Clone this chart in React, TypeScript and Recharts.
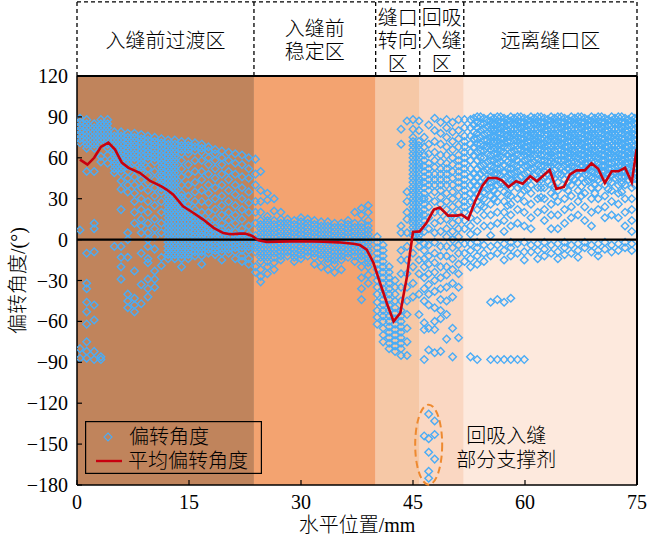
import React from 'react';
import {
  ComposedChart,
  Scatter,
  Line,
  XAxis,
  YAxis,
  ReferenceArea,
  ReferenceLine,
  ReferenceDot,
  Legend,
} from 'recharts';

const FONT = "'Liberation Serif', 'Noto Sans CJK SC', serif";
const CJK = "'Liberation Serif', 'Noto Sans CJK SC', serif";
const CJK_WEIGHT = 300;

const xTicks = [0, 15, 30, 45, 60, 75];
const yTicks = [-180, -150, -120, -90, -60, -30, 0, 30, 60, 90, 120];
const zoneEdges = [0, 23.7, 40, 45.9, 51.8, 75];
const zoneColors = ['#C0845C', '#F3A370', '#F6C8A6', '#FAD7C2', '#FDE9DD'];
const zoneTitles = [
  ['入缝前过渡区'],
  ['入缝前', '稳定区'],
  ['缝口', '转向', '区'],
  ['回吸', '入缝', '区'],
  ['远离缝口区'],
];
const headerTop = 174.3;

// mean deflection line
const meanX = [0.4, 1.4, 2.3, 3.2, 4.2, 5.1, 6.0, 6.9, 8.4, 9.8, 11.3, 12.0, 12.9, 14.2, 15.6, 16.9, 18.3, 19.6, 20.5, 21.8, 22.5, 23.4, 24.3, 25.4, 27, 30, 33, 35, 37, 37.9, 38.8, 39.7, 40.6, 41.5, 42.4, 43.3, 43.7, 44.2, 44.6, 45, 45.9, 46.8, 47.8, 48.6, 49.7, 50.9, 51.5, 52.4, 53.3, 54.3, 55.1, 56.2, 56.9, 57.8, 58.8, 59.7, 60.7, 61.6, 63.3, 64.2, 65.2, 66, 66.9, 68, 68.9, 69.8, 70.7, 71.6, 72.5, 73.4, 74.3, 74.95];
const meanY = [58.7, 55, 60, 68, 71.2, 66, 56.5, 52.6, 49, 43, 39, 36.7, 33, 24.4, 19.5, 14.7, 8.6, 4.8, 3.9, 4.4, 4.4, 2.9, -0.5, -1.8, -1.5, -1.2, -1.6, -2, -3, -4, -7.3, -17, -32, -46.7, -60, -53.8, -41.6, -27, -9.8, 5.6, 6, 12.2, 22, 23.5, 17.6, 17.6, 18.3, 15, 28, 39.5, 45.2, 45.2, 43.5, 38.6, 42.8, 41, 46.5, 42.8, 51, 37.2, 38.6, 47.7, 50.8, 50.8, 56, 52, 41.6, 50.1, 50.1, 52.6, 42, 66.5];

// deflection angle scatter, by column: [x, y values]
const zone1Columns: [number, number[]][] = [
  [0.4, [89, 86, 83, 80, 77, 74, 71, 7, -80, -87]],
  [1.3, [88, 85, 82, 79, 76, 73, 70, 67, 50, -10, -32, -36, -46, -53, -62, -75, -82, -87]],
  [2.3, [85, 82, 79, 76, 73, 70, 67, 50, 12, 8, -9, -48, -59, -82, -88]],
  [3.2, [88, 85, 82, 79, 76, 73, 70, 61, 57, -86, -88]],
  [4.1, [88, 85, 82, 79, 76, 73, 70, 67, 62, 56]],
  [5.0, [79, 76, 73, 70, 67, 64, 61, 58, 55, 52, 49, -5]],
  [5.9, [79, 76, 73, 70, 67, 64, 61, 58, 55, 52, 49, 43, 37, 22, -5, -13, -20, -29]],
  [6.8, [78, 75, 72, 69, 66, 63, 60, 57, 54, 50, 45, 40, 35, 5, 0, -13, -40, -45, -50]],
  [7.7, [78, 75, 72, 69, 66, 63, 60, 57, 52, 46, 40, 34, 28, 20, 12, -23, -43, -48, -53]],
  [8.6, [77, 74, 71, 68, 65, 62, 59, 56, 53, 50, 44, 38, 30, 22, 15, 10, 5, -10, -33, -47]],
  [9.5, [76, 73, 70, 67, 64, 61, 58, 52, 47, 42, 36, 28, 20, 12, 5, 0, -5, -14, -17, -29, -36, -42]],
  [10.4, [75, 72, 69, 66, 63, 60, 57, 50, 44, 38, 32, 25, 15, 8, 2, -7, -23, -29, -35]],
  [11.3, [74, 71, 68, 65, 62, 59, 56, 53, 50, 47, 44, 41, 38, 35, 28, 20, 12, 5, -13, -19]],
  [12.2, [73, 70, 67, 64, 61, 58, 55, 52, 49, 46, 43, 40, 37, 34, 31, 28, 25, 22, 19, 16, 13, 10, 7, 4, 1, -2, -5, -8, -11, -14]],
  [13.1, [73, 70, 67, 64, 61, 58, 55, 52, 49, 46, 43, 40, 37, 34, 31, 28, 25, 22, 19, 16, 13, 10, 7, 4, 1, -2, -5, -8, -11, -14]],
  [14.0, [72, 69, 66, 63, 58, 52, 46, 40, 34, 31, 28, 25, 22, 19, 16, 13, 10, 7, 4, 1, -2, -5, -8, -11, -14, -20]],
  [14.9, [72, 69, 66, 63, 55, 48, 40, 32, 26, 22, 19, 16, 13, 10, 7, 4, 1, -2, -5, -8, -11, -14]],
  [15.8, [71, 68, 65, 58, 50, 42, 35, 28, 22, 18, 15, 12, 9, 6, 3, 0, -3, -6, -9, -12]],
  [16.7, [70, 67, 64, 58, 50, 44, 36, 28, 20, 15, 12, 9, 6, 3, 0, -3, -6, -9, -12, -18]],
  [17.6, [68, 65, 60, 55, 48, 40, 34, 27, 20, 14, 11, 8, 5, 2, -1, -4, -7, -10]],
  [18.5, [66, 63, 58, 52, 45, 38, 30, 22, 15, 10, 7, 4, 1, -2, -5, -8, -11]],
  [19.4, [65, 60, 55, 48, 40, 32, 25, 18, 12, 8, 5, 2, -1, -4, -7, -10, -15]],
  [20.3, [64, 58, 50, 44, 36, 28, 20, 14, 8, 5, 2, -1, -4, -7, -10]],
  [21.2, [63, 56, 48, 40, 33, 25, 18, 12, 6, 3, 0, -3, -6, -9, -14]],
  [22.1, [62, 55, 46, 38, 30, 22, 15, 8, 4, 1, -2, -5, -8, -12, -16]],
  [23.0, [60, 52, 45, 35, 27, 20, 10, 4, 1, -2, -5, -8, -14, -18]],
];

const zone2Columns: [number, number[]][] = [
  [23.9, [59, 48, 40, 28, 20, 12, 3, 0, -3, -6, -9, -20, -24]],
  [24.6, [50, 36, 28, 20, 14, 11, 8, 5, 2, -1, -4, -7, -10, -13, -16, -22, -27, -31]],
  [25.5, [34, 29, 17, 14, 11, 8, 5, 2, -1, -4, -7, -10, -13, -16, -20, -25]],
  [26.4, [30, 21, 14, 11, 8, 5, 2, -1, -4, -7, -10, -13, -17, -22]],
  [27.3, [20, 15, 12, 9, 6, 3, 0, -3, -6, -9, -12, -15]],
  [28.2, [15, 12, 9, 6, 3, 0, -3, -6, -9, -12]],
  [29.1, [14, 11, 8, 5, 2, -1, -4, -7, -10, -13, -16]],
  [30.0, [16, 13, 10, 7, 4, 1, -2, -5, -8, -11, -14]],
  [30.9, [15, 12, 9, 6, 3, 0, -3, -6, -9, -12]],
  [31.8, [14, 11, 8, 5, 2, -1, -4, -7, -10, -13, -18]],
  [32.7, [13, 10, 7, 4, 1, -2, -5, -8, -11, -14, -20]],
  [33.6, [13, 10, 7, 4, 1, -2, -5, -8, -11, -14, -17, -22]],
  [34.5, [12, 9, 6, 3, 0, -3, -6, -9, -12, -15, -18, -24]],
  [35.4, [12, 9, 6, 3, 0, -3, -6, -9, -12, -15, -22]],
  [36.3, [14, 11, 8, 5, 2, -1, -4, -7, -10, -13]],
  [37.2, [20, 12, 9, 6, 3, 0, -3, -6, -9, -12, -16]],
  [38.1, [23, 18, 12, 9, 6, 3, 0, -3, -6, -9, -12, -15, -20, -28, -36, -44]],
  [39.0, [25, 20, 14, 10, 7, 4, 1, -2, -5, -8, -11, -14, -17, -20, -26, -32]],
];

const zone3Columns: [number, number[]][] = [
  [40.2, [2, -2, -6, -10, -14, -18, -22, -26, -30, -35, -40, -46, -52, -57, -62]],
  [41.0, [-4, -8, -12, -16, -20, -24, -28, -32, -36, -40, -44, -48, -52, -56, -60, -65, -70, -75]],
  [41.8, [-20, -24, -28, -32, -36, -40, -44, -48, -52, -56, -60, -64, -68, -72, -76, -80]],
  [42.6, [-30, -35, -40, -45, -50, -54, -58, -62, -66, -70, -74, -78, -82]],
  [43.4, [81, 70, 10, 5, -8, -15, -25, -35, -45, -52, -56, -60, -64, -68, -72, -76, -80, -85]],
  [44.2, [87, 35, 28, 20, 15, 5, -5, -15, -25, -35, -45, -55, -65, -75, -85]],
  [45.0, [88, 81, 75, 72, 69, 66, 63, 60, 57, 54, 51, 48, 45, 42, 39, 36, 33, 30, 27, 24, 21, 18, 15, 12, 9, 6, 3, -10, -20, -32, -42]],
];

const zone4Columns: [number, number[]][] = [
  [45.8, [87, 80, 72, 69, 66, 63, 60, 57, 54, 51, 48, 45, 42, 39, 36, 33, 30, 27, 24, 21, 18, 15, 12, 9, 6, 3, 0, -5, -15, -25, -40, -55]],
  [46.5, [75, 68, 62, 58, 54, 50, 46, 42, 38, 34, 30, 26, 22, 18, 14, 10, 6, -3, -8, -14, -20, -28, -36, -45, -61, -66, -88, -144]],
  [47.1, [84, 70, 63, 56, 52, 48, 44, 40, 36, 30, 24, 16, 8, -4, -12, -18, -25, -33, -40, -48, -65, -81, -128, -146, -156, -170, -175]],
  [47.9, [89, 80, 72, 64, 58, 53, 48, 44, 40, 35, 28, 20, 12, 5, -2, -10, -17, -24, -30, -38, -50, -60, -66, -83, -133, -143, -161]],
  [48.7, [86, 78, 70, 62, 57, 52, 48, 44, 40, 36, 31, 26, 20, 14, 6, -5, -12, -20, -28, -36, -44, -52, -58, -82]],
  [49.5, [88, 82, 75, 68, 62, 56, 52, 48, 44, 40, 34, 28, 22, 15, 8, 2, -5, -12, -20, -26, -35, -45, -55, -73]],
  [50.3, [86, 79, 72, 66, 60, 55, 50, 45, 40, 35, 30, 24, 18, 12, 6, 0, -6, -14, -22, -32, -42, -65, -86]],
  [51.1, [88, 80, 74, 68, 62, 58, 54, 50, 46, 42, 38, 32, 26, 20, 14, 8, 2, -4, -10, -18, -25, -35, -72]],
];

const zone5Columns: [number, number[]][] = [
  [51.9, [88, 82, 76, 72, 68, 64, 60, 56, 52, 48, 44, 40, 36, 32, 28, 24, 20, 14, 8, -3, -10, -16]],
  [52.7, [88, 82, 76, 70, 64, 58, 52, 46, 40, 34, 28, 22, 16, 10, 4, -3, -8, -14, -20, -86]],
  [53.6, [90, 86, 82, 78, 74, 70, 64, 58, 52, 46, 40, 34, 28, 22, 14, 6, -2, -6, -12, -18, -88]],
  [54.5, [89, 85, 81, 77, 73, 69, 65, 60, 55, 50, 45, 40, 35, 30, 24, 18, 10, -4, -10, -16]],
  [55.4, [90, 87, 84, 81, 78, 75, 72, 69, 66, 62, 58, 54, 50, 46, 42, 38, 32, 26, 18, 10, 3, -5, -12, -46, -88]],
  [56.3, [90, 87, 84, 81, 78, 75, 72, 69, 66, 63, 60, 56, 52, 48, 44, 40, 34, 28, 20, 12, -4, -10, -44, -88]],
  [57.2, [89, 86, 83, 80, 77, 74, 71, 68, 64, 60, 55, 50, 45, 40, 35, 28, 20, 14, 6, -3, -8, -15, -46, -88]],
  [58.1, [90, 87, 84, 81, 78, 75, 72, 68, 64, 60, 56, 52, 48, 44, 38, 32, 26, 18, 10, -2, -6, -12, -43, -88]],
  [59.0, [90, 87, 84, 81, 78, 75, 72, 69, 66, 62, 58, 54, 50, 44, 38, 30, 22, 12, -3, -10, -88]],
  [59.9, [89, 86, 83, 80, 77, 74, 71, 68, 65, 62, 58, 54, 48, 42, 36, 28, 20, 10, -2, -9, -15, -88]],
  [60.8, [90, 87, 84, 81, 78, 75, 72, 69, 66, 63, 60, 56, 52, 46, 40, 34, 26, 16, 8, -4, -9]],
  [61.7, [90, 87, 84, 81, 78, 75, 72, 69, 66, 63, 59, 55, 50, 44, 38, 30, 20, -3, -8, -14]],
  [62.6, [89, 86, 83, 80, 77, 74, 71, 68, 65, 62, 58, 54, 50, 45, 38, 30, 22, 14, -2, -7, -12]],
  [63.5, [90, 87, 84, 81, 78, 75, 72, 69, 66, 63, 60, 57, 54, 50, 46, 40, 34, 26, 18, 8, -4, -10]],
  [64.4, [90, 87, 84, 81, 78, 75, 72, 69, 66, 62, 58, 54, 48, 42, 36, 28, 18, 8, -3, -9, -14]],
  [65.3, [89, 86, 83, 80, 77, 74, 71, 68, 65, 62, 58, 54, 50, 44, 38, 30, 22, 12, -2, -6, -11]],
  [66.2, [90, 87, 84, 81, 78, 75, 72, 69, 66, 63, 60, 57, 54, 50, 46, 40, 32, 24, 16, -4, -10]],
  [67.1, [90, 87, 84, 81, 78, 75, 72, 69, 66, 63, 60, 56, 52, 47, 42, 36, 28, 18, -3, -8, -13]],
  [68.0, [89, 86, 83, 80, 77, 74, 71, 68, 65, 62, 59, 56, 52, 48, 42, 34, 24, 14, -2, -6]],
  [68.9, [90, 87, 84, 81, 78, 75, 72, 69, 66, 63, 60, 57, 54, 50, 45, 38, 30, 20, 10, -4, -9]],
  [69.8, [90, 87, 84, 81, 78, 75, 72, 69, 66, 63, 60, 56, 52, 48, 44, 38, 30, 22, -3, -8, -12]],
  [70.7, [89, 86, 83, 80, 77, 74, 71, 68, 65, 62, 58, 54, 50, 45, 40, 32, 24, 16, -2, -7]],
  [71.6, [90, 87, 84, 81, 78, 75, 72, 69, 66, 63, 60, 56, 52, 47, 42, 36, 28, 18, -4, -9]],
  [72.5, [90, 87, 84, 81, 78, 75, 72, 69, 66, 63, 60, 57, 54, 50, 46, 40, 34, 26, 16, -3, -8]],
  [73.4, [89, 86, 83, 80, 77, 74, 71, 68, 65, 62, 59, 56, 53, 50, 46, 40, 30, 20, 10, -2, -6]],
  [74.3, [90, 87, 84, 81, 78, 75, 72, 69, 66, 63, 60, 57, 54, 50, 45, 38, 30, 22, 14, 6, -3, -8]],
];

// extra in-between columns of the dense upper band far from the fracture mouth
const zone5Upper: [number, number[]][] = [
  [53.15, [89, 84, 79, 74, 68, 62, 55, 48, 42, 36, 30]],
  [54.05, [90, 85, 80, 75, 70, 65, 60, 54, 48, 42, 37, 31, 25]],
  [54.95, [88, 83, 78, 73, 68, 63, 57, 51, 44, 37]],
  [55.85, [89, 85, 80, 76, 71, 67, 63, 58, 53, 48, 43, 36, 30]],
  [56.75, [90, 86, 82, 78, 74, 70, 65, 61, 57, 52, 47, 41]],
  [57.65, [88, 84, 80, 76, 72, 67, 62, 57, 52, 46, 40, 33, 25]],
  [58.55, [89, 85, 81, 77, 73, 69, 65, 60, 55, 49, 43]],
  [59.45, [90, 86, 82, 78, 74, 70, 66, 61, 56, 51, 46, 40, 33]],
  [60.35, [88, 84, 80, 76, 72, 68, 64, 59, 54, 49, 43, 37]],
  [61.25, [89, 85, 81, 77, 73, 70, 66, 62, 57, 52, 47]],
  [62.15, [90, 86, 82, 78, 74, 70, 66, 62, 58, 54, 49, 44, 38, 31]],
  [63.05, [88, 84, 80, 77, 73, 69, 65, 61, 57, 53, 48, 43]],
  [63.95, [89, 85, 81, 77, 73, 69, 65, 61, 56, 51, 45, 39, 32]],
  [64.85, [90, 86, 82, 78, 74, 70, 66, 62, 58, 53, 48]],
  [65.75, [88, 84, 80, 76, 72, 68, 64, 60, 56, 52, 47, 42, 36]],
  [66.65, [89, 85, 81, 77, 73, 69, 65, 61, 57, 53, 49, 44]],
  [67.55, [90, 86, 82, 78, 74, 70, 66, 62, 58, 54, 50, 45, 39, 32]],
  [68.45, [88, 84, 80, 76, 72, 68, 64, 60, 56, 52, 48, 43]],
  [69.35, [89, 85, 81, 77, 73, 69, 65, 61, 57, 53, 49, 45, 40, 34]],
  [70.25, [90, 86, 82, 78, 74, 70, 66, 62, 58, 54, 50, 46]],
  [71.15, [88, 84, 80, 76, 72, 68, 64, 60, 56, 52, 48, 43, 37]],
  [72.05, [89, 85, 81, 77, 73, 69, 65, 61, 57, 53, 49, 45]],
  [72.95, [90, 86, 82, 78, 74, 70, 66, 62, 58, 54, 50, 46, 41, 35]],
  [73.85, [88, 84, 80, 76, 72, 68, 64, 60, 56, 52, 48, 44]],
  [74.7, [89, 85, 81, 77, 73, 69, 65, 61, 57, 53, 49, 45, 40]],
];

const scatterData = [...zone1Columns, ...zone2Columns, ...zone3Columns, ...zone4Columns, ...zone5Columns, ...zone5Upper]
  .flatMap(([x, ys]) => ys.map((y) => ({ x, y })));
const meanData = meanX.map((x, i) => ({ x, y: meanY[i] }));

const BLUE = '#4AACF6';
const RED = '#C8000F';

const Diamond = (props: any) => {
  const { cx, cy } = props;
  if (cx == null || cy == null) return null;
  const r = 3.8;
  return (
    <path
      d={`M${cx},${cy - r}L${cx + r},${cy}L${cx},${cy + r}L${cx - r},${cy}Z`}
      fill="none"
      stroke={BLUE}
      strokeWidth={1.4}
    />
  );
};

const fmt = (v: number) => (v < 0 ? `\u2212${Math.abs(v)}` : `${v}`);

const YTick = (props: any) => {
  const { x, y, payload } = props;
  return (
    <g>
      <line x1={x + 9} x2={x + 14} y1={y} y2={y} stroke="#000" strokeWidth={1.2} />
      <text x={x} y={y} textAnchor="end" dominantBaseline="central" fontFamily={FONT} fontSize={20} fill="#000">
        {fmt(payload.value)}
      </text>
    </g>
  );
};

const XTick = (props: any) => {
  const { x, y, payload } = props;
  return (
    <g>
      <line x1={x} x2={x} y1={y - 6} y2={y - 11} stroke="#000" strokeWidth={1.2} />
      <text x={x} y={y + 11} textAnchor="middle" dominantBaseline="central" fontFamily={FONT} fontSize={20} fill="#000">
        {fmt(payload.value)}
      </text>
    </g>
  );
};

const headerLabel = (lines: string[]) => (props: any) => {
  const vb = props.viewBox || {};
  const cx = vb.x + vb.width / 2;
  const cy = vb.y + vb.height / 2 + 2;
  const lh = 23;
  const start = cy - ((lines.length - 1) * lh) / 2;
  return (
    <g>
      {lines.map((t, i) => (
        <text key={i} x={cx} y={start + i * lh} textAnchor="middle" dominantBaseline="central" fontFamily={CJK} fontWeight={CJK_WEIGHT} fontSize={20} fill="#000">
          {t}
        </text>
      ))}
    </g>
  );
};

const yAxisLabel = (props: any) => {
  const vb = props.viewBox || {};
  const cx = vb.x + 18;
  const cy = vb.y + vb.height / 2;
  return (
    <text x={cx} y={cy} transform={`rotate(-90 ${cx} ${cy})`} textAnchor="middle" dominantBaseline="central" fontFamily={CJK} fontWeight={CJK_WEIGHT} fontSize={20} fill="#000">
      偏转角度/(°)
    </text>
  );
};

const xAxisLabel = (props: any) => {
  const vb = props.viewBox || {};
  const cx = vb.x + vb.width / 2;
  const cy = vb.y + 40;
  return (
    <text x={cx} y={cy} textAnchor="middle" dominantBaseline="central" fontFamily={CJK} fontWeight={CJK_WEIGHT} fontSize={20} fill="#000">
      水平位置/mm
    </text>
  );
};

const ellipseShape = (props: any) => (
  <ellipse cx={props.cx} cy={props.cy} rx={13.5} ry={40} fill="none" stroke="#EE8A30" strokeWidth={2} strokeDasharray="7 4" />
);

const noteShape = (props: any) => (
  <g>
    <text x={props.cx} y={props.cy - 12} textAnchor="middle" dominantBaseline="central" fontFamily={CJK} fontWeight={CJK_WEIGHT} fontSize={20} fill="#000">
      回吸入缝
    </text>
    <text x={props.cx} y={props.cy + 12} textAnchor="middle" dominantBaseline="central" fontFamily={CJK} fontWeight={CJK_WEIGHT} fontSize={20} fill="#000">
      部分支撑剂
    </text>
  </g>
);

const LegendBox = () => (
  <svg width={177} height={53} style={{ display: 'block' }}>
    <rect x={0.6} y={0.6} width={175.8} height={51.8} fill="none" stroke="#000" strokeWidth={1.2} />
    <path d="M23,12L27,16L23,20L19,16Z" fill="none" stroke={BLUE} strokeWidth={1.1} />
    <text x={44} y={16} dominantBaseline="central" fontFamily={CJK} fontWeight={CJK_WEIGHT} fontSize={20} fill="#000">偏转角度</text>
    <line x1={11} x2={37} y1={40} y2={40} stroke={RED} strokeWidth={2.4} />
    <text x={43} y={40} dominantBaseline="central" fontFamily={CJK} fontWeight={CJK_WEIGHT} fontSize={20} fill="#000">平均偏转角度</text>
  </svg>
);

export default function App() {
  return (
    <div>
      <style>{'body{margin:0}'}</style>
      <ComposedChart width={650} height={541} margin={{ top: 76, right: 13, bottom: 0, left: 0 }}>
        <XAxis
          type="number"
          dataKey="x"
          domain={[0, 75]}
          ticks={xTicks}
          allowDataOverflow
          tickSize={0}
          tickMargin={6}
          tick={<XTick />}
          tickLine={false}
          height={56}
          axisLine={{ stroke: '#000', strokeWidth: 1.5 }}
          label={{ content: xAxisLabel }}
        />
        <YAxis
          type="number"
          dataKey="y"
          domain={[-180, 120]}
          ticks={yTicks}
          allowDataOverflow
          tickSize={0}
          tickMargin={9}
          tick={<YTick />}
          tickLine={false}
          width={77}
          axisLine={{ stroke: '#000', strokeWidth: 1.5 }}
          label={{ content: yAxisLabel }}
        />
        {zoneColors.map((c, i) => (
          <ReferenceArea key={`z${i}`} x1={zoneEdges[i]} x2={zoneEdges[i + 1]} y1={-180} y2={120} fill={c} fillOpacity={1} stroke="none" />
        ))}
        {zoneTitles.map((lines, i) => (
          <ReferenceArea
            key={`h${i}`}
            x1={zoneEdges[i]}
            x2={zoneEdges[i + 1]}
            y1={120}
            y2={headerTop}
            fill="none"
            stroke="none"
            ifOverflow="visible"
            label={{ content: headerLabel(lines) }}
          />
        ))}
        {zoneEdges.map((e, i) => (
          <ReferenceLine
            key={`d${i}`}
            segment={[{ x: e, y: 120 }, { x: e, y: headerTop }]}
            stroke="#000"
            strokeWidth={1.3}
            strokeDasharray="4 3"
            ifOverflow="visible"
          />
        ))}
        <ReferenceLine
          segment={[{ x: 0, y: headerTop }, { x: 75, y: headerTop }]}
          stroke="#000"
          strokeWidth={1.3}
          strokeDasharray="4 3"
          ifOverflow="visible"
        />
        <Scatter name="偏转角度" data={scatterData} shape={Diamond} isAnimationActive={false} />
        <ReferenceLine y={0} stroke="#000" strokeWidth={2.2} zIndex={650} />
        <Line name="平均偏转角度" data={meanData} dataKey="y" type="linear" stroke={RED} strokeWidth={2.6} dot={false} isAnimationActive={false} zIndex={700} />
        <ReferenceLine y={120} stroke="#000" strokeWidth={2} zIndex={700} />
        <ReferenceLine x={75} stroke="#000" strokeWidth={2} zIndex={700} />
        <ReferenceDot x={47.1} y={-150.4} r={0} shape={ellipseShape} ifOverflow="visible" zIndex={700} />
        <ReferenceDot x={57.5} y={-152.6} r={0} shape={noteShape} ifOverflow="visible" zIndex={700} />
        <Legend
          layout="vertical"
          align="center"
          verticalAlign="middle"
          content={() => <LegendBox />}
          wrapperStyle={{ left: 85, top: 421, width: 177, height: 53 }}
        />
      </ComposedChart>
    </div>
  );
}
